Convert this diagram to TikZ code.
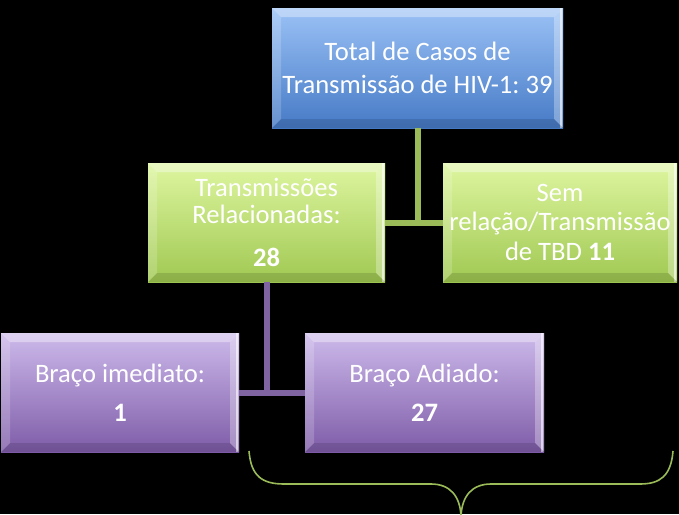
\documentclass[tikz,border=0pt]{standalone}
\usepackage{fontspec}
\setmainfont{Carlito}
\frenchspacing
\begin{document}
\begin{tikzpicture}[x=1pt,y=-1pt,
  bevel/.style={path picture={
    \fill[white,opacity=.35] (path picture bounding box.north west) -- (path picture bounding box.north east)
      -- ([xshift=-9pt,yshift=-9pt]path picture bounding box.north east) -- ([xshift=9pt,yshift=-9pt]path picture bounding box.north west) -- cycle;
    \fill[white,opacity=.18] (path picture bounding box.north west) -- ([xshift=9pt,yshift=-9pt]path picture bounding box.north west)
      -- ([xshift=9pt,yshift=9pt]path picture bounding box.south west) -- (path picture bounding box.south west) -- cycle;
    \fill[white,opacity=.30] (path picture bounding box.north east) -- ([xshift=-9pt,yshift=-9pt]path picture bounding box.north east)
      -- ([xshift=-9pt,yshift=9pt]path picture bounding box.south east) -- (path picture bounding box.south east) -- cycle;
    \fill[white,opacity=.6] ([xshift=-3pt]path picture bounding box.north east) rectangle ([xshift=-1pt]path picture bounding box.south east);
    \fill[black,opacity=.12] (path picture bounding box.south west) -- ([xshift=9pt,yshift=9pt]path picture bounding box.south west)
      -- ([xshift=-9pt,yshift=9pt]path picture bounding box.south east) -- (path picture bounding box.south east) -- cycle;
  }},
  box/.style={bevel, inner sep=0pt, align=center, text=white,
    font=\fontsize{26.6}{27}\selectfont},
  bluebox/.style={box, top color=blueTop, bottom color=blueBot},
  greenbox/.style={box, top color=greenTop, bottom color=greenBot},
  purplebox/.style={box, top color=purpTop, bottom color=purpBot},
  gline/.style={draw=greenLine, line width=6pt},
  pline/.style={draw=purpLine, line width=6pt},
  bracestyle/.style={draw=greenLine, line width=1.6pt}
]
\definecolor{blueTop}{RGB}{155,194,246}
\definecolor{blueBot}{RGB}{70,122,198}
\definecolor{greenTop}{RGB}{222,246,160}
\definecolor{greenBot}{RGB}{160,200,82}
\definecolor{purpTop}{RGB}{205,186,235}
\definecolor{purpBot}{RGB}{126,92,168}
\definecolor{greenLine}{RGB}{155,187,89}
\definecolor{purpLine}{RGB}{128,100,162}

\useasboundingbox (0,0) rectangle (679,514);
\fill[black] (0,0) rectangle (679,514);

\node[bluebox, minimum width=291pt, minimum height=120pt] (top) at (417.5,68)
  {Total de Casos de\\[6pt]Transmissão de HIV-1: 39};
\node[greenbox, minimum width=237pt, minimum height=119pt] (rel) at (266.5,222.5)
  {Transmissões\\Relacionadas:\\[16pt]\textbf{28}};
\node[greenbox, minimum width=234pt, minimum height=119pt] (sem) at (560,222.5)
  {Sem\\[2pt]relação/Transmissão\\[3pt]de TBD \textbf{11}};
\node[purplebox, minimum width=238pt, minimum height=119pt] (imd) at (120,392.5)
  {Braço imediato:\\[12pt]\textbf{1}};
\node[purplebox, minimum width=239pt, minimum height=119pt] (adi) at (424.5,392.5)
  {Braço Adiado:\\[12pt]\textbf{27}};

\draw[gline] (top.south) -- (top.south |- rel.east);
\draw[gline] (rel.east) -- (sem.west);
\draw[pline] (rel.south) -- (rel.south |- imd.east);
\draw[pline] (imd.east) -- (adi.west);

% brace
\coordinate (bl) at (249,451);
\coordinate (br) at (673,451);
\coordinate (bt) at (461,516);
\draw[bracestyle] (bl) .. controls (251,476) and (262,484) .. (284,484)
  -- (431,484) .. controls (450,484) and (460,496) .. (bt)
  .. controls (462,496) and (472,484) .. (491,484)
  -- (640,484) .. controls (660,484) and (671,476) .. (br);
\end{tikzpicture}
\end{document}
